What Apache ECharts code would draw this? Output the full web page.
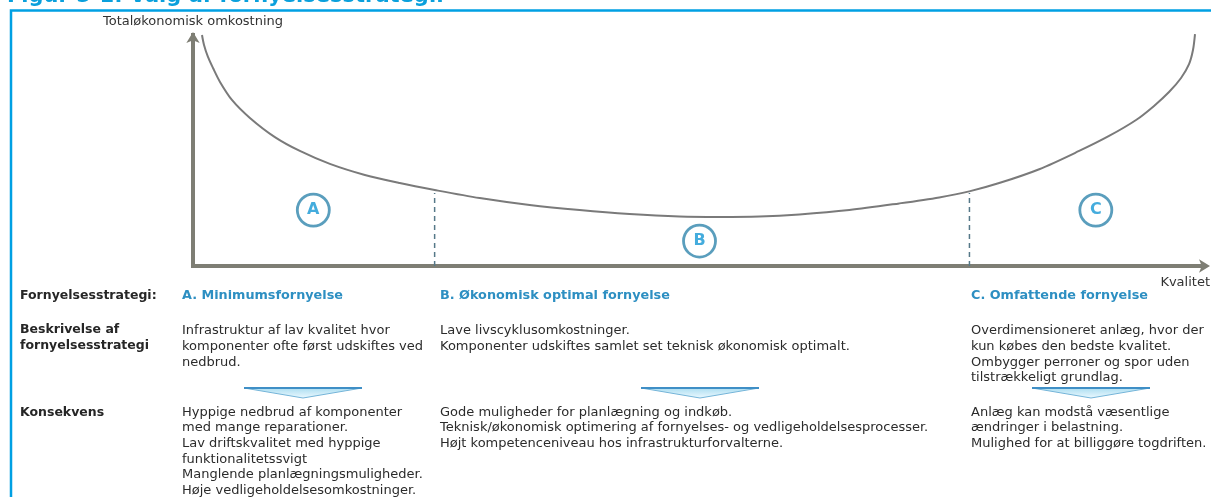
<!DOCTYPE html>
<html>
<head>
<meta charset="utf-8">
<script src="https://cdn.jsdelivr.net/npm/echarts@6/dist/echarts.min.js"></script>
<style>
html,body{margin:0;padding:0;background:#fff;}
#chart{width:1211px;height:497px;}
</style>
</head>
<body>
<div id="chart"></div>
<script>
// kurve: kvalitet (0-100) mod totaløkonomisk omkostning (0-100)
var quality = [0.89, 1.09, 1.48, 1.98, 2.67, 3.85, 5.63, 8.1, 10.57, 13.54, 17.0, 20.45, 23.91, 28.36, 33.3, 38.24, 43.18, 48.12, 52.08, 56.03, 59.98, 64.92, 69.86, 73.81, 76.78, 79.74, 83.7, 87.65, 90.61, 93.28, 95.06, 96.54, 97.73, 98.52, 98.91, 99.11];
var cost = [100.0, 95.7, 90.5, 85.7, 79.7, 71.9, 64.1, 55.8, 49.8, 44.2, 39.4, 35.9, 32.9, 29.4, 26.4, 24.2, 22.5, 21.4, 21.2, 21.4, 22.3, 24.2, 27.1, 29.7, 32.3, 35.9, 41.9, 49.8, 56.3, 63.2, 69.3, 75.3, 81.4, 87.4, 93.5, 100.4];
// stiplede skillelinjer
var dividerQuality = [23.9, 76.8];
var dividerTop = [31.6, 31.6];
// zoner A, B, C
var zoneNames = ['A', 'B', 'C'];
var zoneQuality = [11.9, 50.1, 89.3];
var zoneCost = [24.2, 10.8, 24.2];

var title = 'Figur 5-1: Valg af fornyelsesstrategi.';
var yName = 'Totaløkonomisk omkostning';
var xName = 'Kvalitet';

var rowLabels = ['Fornyelsesstrategi:', 'Beskrivelse af\nfornyelsesstrategi', 'Konsekvens'];
var strategies = ['A. Minimumsfornyelse', 'B. Økonomisk optimal fornyelse', 'C. Omfattende fornyelse'];
var descriptions = [
	'Infrastruktur af lav kvalitet hvor\nkomponenter ofte først udskiftes ved\nnedbrud.',
	'Lave livscyklusomkostninger.\nKomponenter udskiftes samlet set teknisk økonomisk optimalt.',
	'Overdimensioneret anlæg, hvor der\nkun købes den bedste kvalitet.\nOmbygger perroner og spor uden\ntilstrækkeligt grundlag.'
];
var consequences = [
	'Hyppige nedbrud af komponenter\nmed mange reparationer.\nLav driftskvalitet med hyppige\nfunktionalitetssvigt\nManglende planlægningsmuligheder.\nHøje vedligeholdelsesomkostninger.',
	'Gode muligheder for planlægning og indkøb.\nTeknisk/økonomisk optimering af fornyelses- og vedligeholdelsesprocesser.\nHøjt kompetenceniveau hos infrastrukturforvalterne.',
	'Anlæg kan modstå væsentlige\nændringer i belastning.\nMulighed for at billiggøre togdriften.'
];

var FONT = '"DejaVu Sans", Verdana, sans-serif';
var colX = [182, 440, 971];
var arrowX = [244, 641, 1032];
var LH = 15.6;

var curve = [];
for (var i = 0; i < quality.length; i++) {
	curve.push([quality[i], cost[i]]);
}

var series = [{
	type: 'line',
	data: curve,
	smooth: 0.3,
	symbol: 'none',
	clip: false,
	lineStyle: { color: '#7a7a7a', width: 2 },
	z: 3
}];
for (var d = 0; d < dividerQuality.length; d++) {
	series.push({
		type: 'line',
		data: [[dividerQuality[d], 0], [dividerQuality[d], dividerTop[d]]],
		symbol: 'none',
		lineStyle: { color: '#557888', width: 1.5, type: [5, 4] },
		z: 2
	});
}
var zones = [];
for (var k = 0; k < zoneNames.length; k++) {
	zones.push({ value: [zoneQuality[k], zoneCost[k]], name: zoneNames[k] });
}
series.push({
	type: 'scatter',
	data: zones,
	symbolSize: 32,
	itemStyle: { color: '#fff', borderColor: '#3186ac', borderWidth: 2.8 },
	label: {
		show: true,
		position: 'inside',
		formatter: '{b}',
		color: '#1597d4',
		fontFamily: FONT,
		fontWeight: 'bold',
		fontSize: 16
	},
	z: 4
});

// grafik: ramme, titel, tabeltekst og pile
var graphics = [{
	type: 'rect',
	shape: { x: 11, y: 10.5, width: 1400, height: 700 },
	style: { fill: 'none', stroke: '#00a0e3', lineWidth: 2.5 },
	silent: true
}, {
	type: 'text',
	x: 7, y: -3,
	style: { text: title, fill: '#0aa0dc', font: 'bold 21px ' + FONT, verticalAlign: 'middle' }
}];

var labelFont = 'bold 12.5px ' + FONT;
graphics.push({
	type: 'text', x: 20, y: 296,
	style: { text: rowLabels[0], fill: '#262626', font: labelFont, verticalAlign: 'middle' }
});
graphics.push({
	type: 'text', x: 20, y: 330 - LH / 2,
	style: { text: rowLabels[1], fill: '#262626', font: labelFont, lineHeight: LH, verticalAlign: 'top' }
});
graphics.push({
	type: 'text', x: 20, y: 412.5 - LH / 2,
	style: { text: rowLabels[2], fill: '#262626', font: labelFont, lineHeight: LH, verticalAlign: 'top' }
});

for (var c = 0; c < 3; c++) {
	graphics.push({
		type: 'text', x: colX[c], y: 296,
		style: { text: strategies[c], fill: '#2d8fc2', font: 'bold 12.8px ' + FONT, verticalAlign: 'middle' }
	});
	graphics.push({
		type: 'text', x: colX[c], y: 331 - LH / 2,
		style: { text: descriptions[c], fill: '#2b2b2b', font: '13px ' + FONT, lineHeight: LH, verticalAlign: 'top' }
	});
	graphics.push({
		type: 'text', x: colX[c], y: 412.5 - LH / 2,
		style: { text: consequences[c], fill: '#2b2b2b', font: '13px ' + FONT, lineHeight: LH, verticalAlign: 'top' }
	});
	var ax = arrowX[c];
	graphics.push({
		type: 'polygon',
		shape: { points: [[ax, 388], [ax + 118, 388], [ax + 59, 398]] },
		style: {
			fill: new echarts.graphic.LinearGradient(0, 0, 0, 1, [
				{ offset: 0, color: '#a9dcf0' },
				{ offset: 1, color: '#eefaff' }
			]),
			stroke: '#74b4d8',
			lineWidth: 1
		}
	});
	graphics.push({
		type: 'line',
		shape: { x1: ax, y1: 388, x2: ax + 118, y2: 388 },
		style: { stroke: '#3f8fc6', lineWidth: 2 }
	});
}

var axisLineStyle = { color: '#7e7e74', width: 4, cap: 'square' };
var mycharts = echarts.init(document.getElementById('chart'));
var option = {
	animation: false,
	grid: { left: 193, right: 6, top: 35, bottom: 231 },
	xAxis: {
		type: 'value',
		min: 0,
		max: 100,
		name: xName,
		nameLocation: 'end',
		nameGap: 6,
		nameTextStyle: { color: '#333', fontFamily: FONT, fontSize: 13, align: 'right', verticalAlign: 'top', padding: [10, 0, 0, 0] },
		axisLine: { show: true, symbol: ['none', 'arrow'], symbolSize: [10, 11], symbolOffset: [0, 6], lineStyle: axisLineStyle },
		axisTick: { show: false },
		axisLabel: { show: false },
		splitLine: { show: false }
	},
	yAxis: {
		type: 'value',
		min: 0,
		max: 100,
		name: yName,
		nameLocation: 'end',
		nameGap: 13,
		nameTextStyle: { color: '#333', fontFamily: FONT, fontSize: 13, align: 'center', verticalAlign: 'middle' },
		axisLine: { show: true, symbol: ['none', 'arrow'], symbolSize: [10, 11], symbolOffset: [0, 3], lineStyle: axisLineStyle },
		axisTick: { show: false },
		axisLabel: { show: false },
		splitLine: { show: false }
	},
	graphic: graphics,
	series: series
};
mycharts.setOption(option);
</script>
</body>
</html>
